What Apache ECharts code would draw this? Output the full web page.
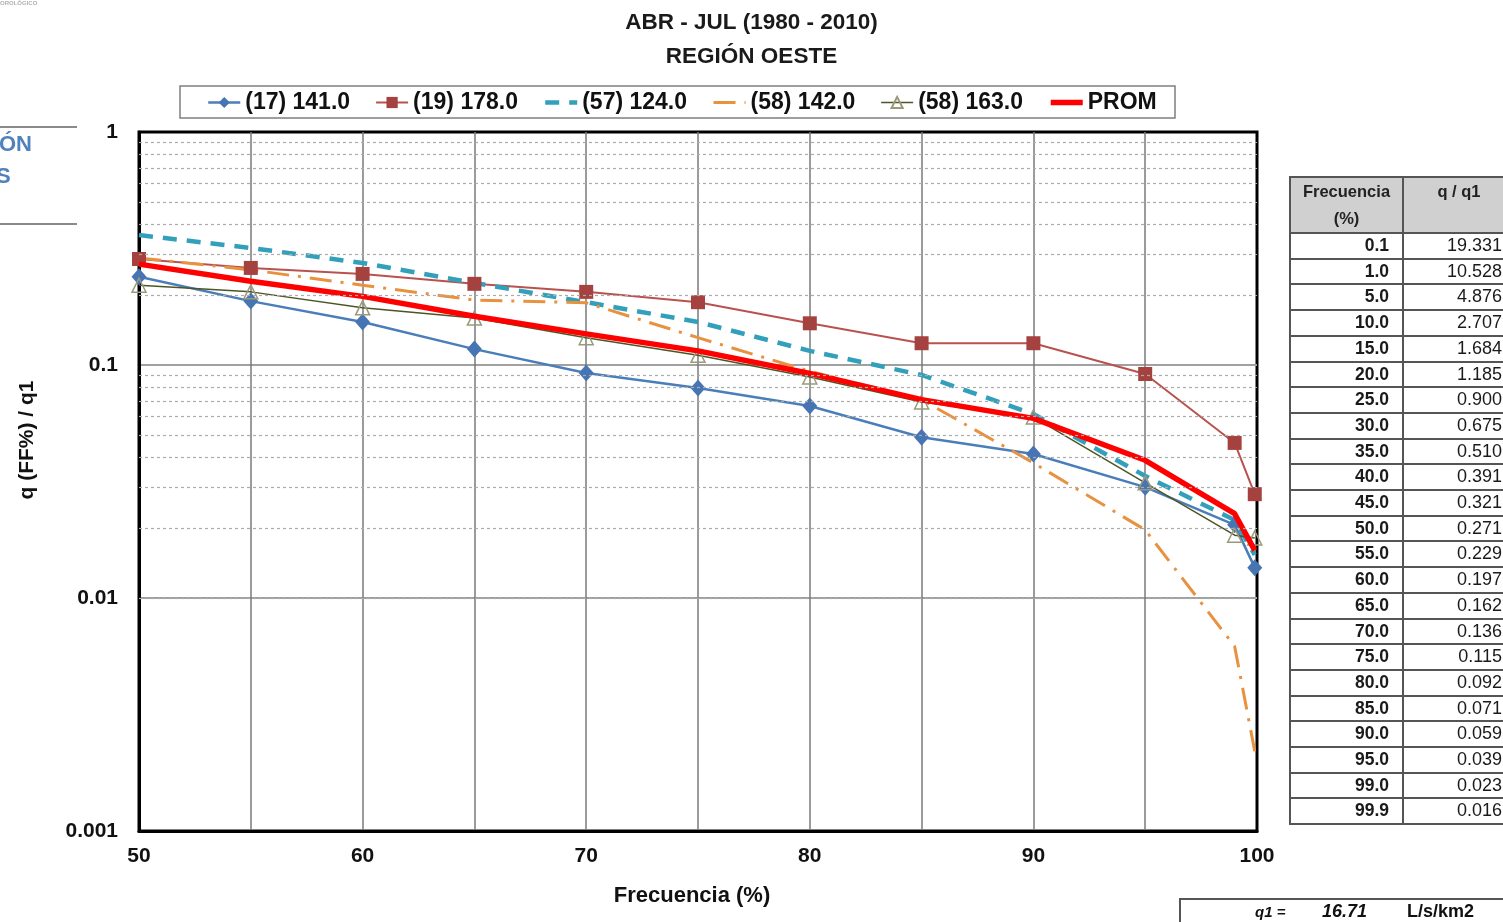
<!DOCTYPE html>
<html>
<head>
<meta charset="utf-8">
<script src="https://cdn.jsdelivr.net/npm/echarts@6/dist/echarts.min.js"></script>
<style>
  html, body { margin:0; padding:0; background:#fff; overflow:hidden; }
  body { width:1503px; height:922px; position:relative; font-family:'Liberation Sans', Arial, sans-serif; }
  #chart { position:absolute; left:0; top:0; width:1503px; height:922px; }
  #tbl { position:absolute; left:1289px; top:176px; width:243px; border-collapse:collapse; table-layout:fixed; }
  #tbl td { border:2px solid #555; padding:0; color:#1a1a1a; height:23.7px; line-height:23.7px; }
  #tbl td.f { text-align:right; font-weight:bold; font-size:17.5px; padding-right:13px; }
  #tbl td.v { text-align:right; font-size:18px; padding-right:30px; }
  #tbl th { border:2px solid #555; background:#d0d0d0; font-size:16.5px; font-weight:bold; color:#222; vertical-align:top; line-height:27px; height:51px; padding:0; }
  #tbl th.q { padding-right:18px; }
</style>
</head>
<body>
<div id="chart"></div>
<script>
// ---------- data ----------
const freq = [50, 55, 60, 65, 70, 75, 80, 85, 90, 95, 99, 99.9];
const s17_141 = [0.239, 0.188, 0.153, 0.117, 0.0924, 0.0797, 0.0667, 0.049, 0.0415, 0.0299, 0.0206, 0.0135];
const s19_178 = [0.285, 0.261, 0.246, 0.223, 0.206, 0.186, 0.151, 0.124, 0.124, 0.0915, 0.0463, 0.0279];
const s57_124 = [0.361, 0.318, 0.274, 0.225, 0.186, 0.153, 0.115, 0.0906, 0.0616, 0.0334, 0.0216, 0.0153];
const s58_142 = [0.288, 0.256, 0.220, 0.190, 0.185, 0.131, 0.094, 0.071, 0.038, 0.0196, 0.0062, 0.0022];
const s58_163 = [0.220, 0.206, 0.176, 0.159, 0.131, 0.110, 0.0888, 0.0694, 0.0598, 0.0312, 0.0186, 0.0181];
const prom = [0.271, 0.229, 0.197, 0.162, 0.136, 0.115, 0.092, 0.071, 0.059, 0.039, 0.023, 0.016];
const seriesNames = ['(17) 141.0', '(19) 178.0', '(57) 124.0', '(58) 142.0', '(58) 163.0', 'PROM'];

const tableFreq = ['0.1','1.0','5.0','10.0','15.0','20.0','25.0','30.0','35.0','40.0','45.0','50.0','55.0','60.0','65.0','70.0','75.0','80.0','85.0','90.0','95.0','99.0','99.9'];
const tableRatio = ['19.331','10.528','4.876','2.707','1.684','1.185','0.900','0.675','0.510','0.391','0.321','0.271','0.229','0.197','0.162','0.136','0.115','0.092','0.071','0.059','0.039','0.023','0.016'];
const q1Value = '16.71';
const q1Unit = 'L/s/km2';
const titleLines = ['ABR - JUL (1980 - 2010)', 'REGIÓN OESTE'];
const xName = 'Frecuencia (%)';
const yName = 'q (FF%) / q1';

// minor gridlines (2..9 × 10^k)
const minorLines = [];
[0.001, 0.01, 0.1].forEach(function (d) { for (let m = 2; m <= 9; m++) minorLines.push(+(m * d).toPrecision(2)); });

const FONT = "'Liberation Sans', Arial, sans-serif";
function pairs(arr) { return freq.map(function (f, i) { return [f, arr[i]]; }); }

const chart = echarts.init(document.getElementById('chart'), null, { renderer: 'canvas' });
chart.setOption({
  animation: false,
  backgroundColor: '#fff',
  textStyle: { fontFamily: FONT },
  title: {
    text: titleLines.join('\n'),
    left: 'center', top: 1,
    textStyle: { fontSize: 22.5, fontWeight: 'bold', color: '#1a1a1a', lineHeight: 34, fontFamily: FONT }
  },
  legend: {
    data: seriesNames,
    left: 207, top: 91, padding: 0,
    itemWidth: 32, itemHeight: 14, itemGap: 25,
    lineStyle: { width: 'inherit' },
    textStyle: { fontSize: 23, fontWeight: 'bold', color: '#111', fontFamily: FONT }
  },
  grid: { left: 139, right: 246, top: 132, bottom: 91, show: true, borderColor: '#000', borderWidth: 3, outerBoundsMode: 'none' },
  xAxis: {
    type: 'value', min: 50, max: 100, interval: 5,
    axisLine: { show: true, lineStyle: { color: '#000', width: 3 } },
    axisTick: { show: false },
    axisLabel: {
      margin: 15, fontSize: 21, fontWeight: 'bold', color: '#111', fontFamily: FONT,
      formatter: function (v) { return v % 10 === 0 ? String(v) : ''; }
    },
    splitLine: { show: true, showMinLine: false, showMaxLine: false, lineStyle: { color: '#7a7a7a', width: 1.5 } }
  },
  yAxis: {
    type: 'log', logBase: 10, min: 0.001, max: 1,
    axisLine: { show: true, lineStyle: { color: '#000', width: 3 } },
    axisTick: { show: false },
    axisLabel: {
      margin: 21, fontSize: 21, fontWeight: 'bold', color: '#111', fontFamily: FONT,
      formatter: function (v) { return String(+(+v).toPrecision(3)); }
    },
    splitLine: { show: true, showMinLine: false, showMaxLine: false, lineStyle: { color: '#a0a0a0', width: 2 } }
  },
  graphic: [
    { type: 'text', left: 0, top: 0, style: { text: 'OROLÓGICO', fill: '#b0b0b0', font: 'bold 6px ' + FONT } },
    { type: 'rect', shape: { x: 0, y: 126, width: 77, height: 2 }, style: { fill: '#8a8a8a' } },
    { type: 'rect', shape: { x: 0, y: 223, width: 77, height: 2 }, style: { fill: '#8a8a8a' } },
    { type: 'text', x: -1, y: 145, style: { text: 'ÓN', fill: '#4f81bd', font: 'bold 22px ' + FONT, verticalAlign: 'middle' } },
    { type: 'text', x: -4, y: 177, style: { text: 'S', fill: '#4f81bd', font: 'bold 22px ' + FONT, verticalAlign: 'middle' } },
    { type: 'rect', z: 0, shape: { x: 180, y: 86, width: 995, height: 32 }, style: { fill: 'none', stroke: '#7f7f7f', lineWidth: 1.5 } },
    { type: 'text', x: 27, y: 440, rotation: Math.PI / 2, style: { text: yName, fill: '#111', font: 'bold 21px ' + FONT, align: 'center', verticalAlign: 'middle' } },
    { type: 'text', x: 692, y: 896, style: { text: xName, fill: '#111', font: 'bold 22px ' + FONT, align: 'center', verticalAlign: 'middle' } },
    { type: 'rect', shape: { x: 1180, y: 899, width: 330, height: 30 }, style: { fill: 'none', stroke: '#555', lineWidth: 2 } },
    { type: 'text', x: 1255, y: 913, style: { text: 'q1 =', fill: '#111', font: 'italic bold 15px ' + FONT, verticalAlign: 'middle' } },
    { type: 'text', x: 1322, y: 912, style: { text: q1Value, fill: '#111', font: 'italic bold 18px ' + FONT, verticalAlign: 'middle' } },
    { type: 'text', x: 1407, y: 912, style: { text: q1Unit, fill: '#111', font: 'bold 18px ' + FONT, verticalAlign: 'middle' } }
  ],
  series: [
    {
      name: '__minor', type: 'line', data: [], silent: true, z: 1,
      markLine: {
        silent: true, symbol: 'none', label: { show: false },
        lineStyle: { color: '#ababab', width: 1.2, type: [3, 3] },
        data: minorLines.map(function (v) { return { yAxis: v }; })
      }
    },
    {
      name: seriesNames[0], type: 'line', data: pairs(s17_141), z: 3,
      symbol: 'diamond', symbolSize: [15, 17],
      itemStyle: { color: '#4775b4' }, lineStyle: { color: '#4a7ebb', width: 2.5 }
    },
    {
      name: seriesNames[1], type: 'line', data: pairs(s19_178), z: 3,
      symbol: 'rect', symbolSize: 14,
      itemStyle: { color: '#a5423f' }, lineStyle: { color: '#b9524f', width: 2 }
    },
    {
      name: seriesNames[2], type: 'line', data: pairs(s57_124), z: 3,
      symbol: 'none',
      itemStyle: { color: '#33a0bb', opacity: 0 }, lineStyle: { color: '#33a0bb', width: 4.5, type: [14, 10] }
    },
    {
      name: seriesNames[3], type: 'line', data: pairs(s58_142), z: 3,
      symbol: 'none',
      itemStyle: { color: '#e8913f', opacity: 0 }, lineStyle: { color: '#e8913f', width: 3, type: [22, 9, 3, 9] }
    },
    {
      name: seriesNames[4], type: 'line', data: pairs(s58_163), z: 3,
      symbol: 'triangle', symbolSize: 14,
      itemStyle: { color: 'rgba(255,255,255,0)', borderColor: '#9a9a7a', borderWidth: 1.5 },
      lineStyle: { color: '#4d5526', width: 1.5 }
    },
    {
      name: seriesNames[5], type: 'line', data: pairs(prom), z: 4,
      symbol: 'none',
      itemStyle: { color: '#ff0000', opacity: 0 }, lineStyle: { color: '#ff0000', width: 5.5 }
    }
  ]
});

// ---------- table ----------
(function () {
  const t = document.createElement('table');
  t.id = 'tbl';
  const cg = document.createElement('colgroup');
  ['113px', '130px'].forEach(function (w) { const c = document.createElement('col'); c.style.width = w; cg.appendChild(c); });
  t.appendChild(cg);
  const h = document.createElement('tr');
  h.innerHTML = '<th>Frecuencia<br>(%)</th><th class="q">q / q1</th>';
  t.appendChild(h);
  tableFreq.forEach(function (f, i) {
    const r = document.createElement('tr');
    const a = document.createElement('td'); a.className = 'f'; a.textContent = f;
    const b = document.createElement('td'); b.className = 'v'; b.textContent = tableRatio[i];
    r.appendChild(a); r.appendChild(b); t.appendChild(r);
  });
  document.body.appendChild(t);
})();
</script>
</body>
</html>
